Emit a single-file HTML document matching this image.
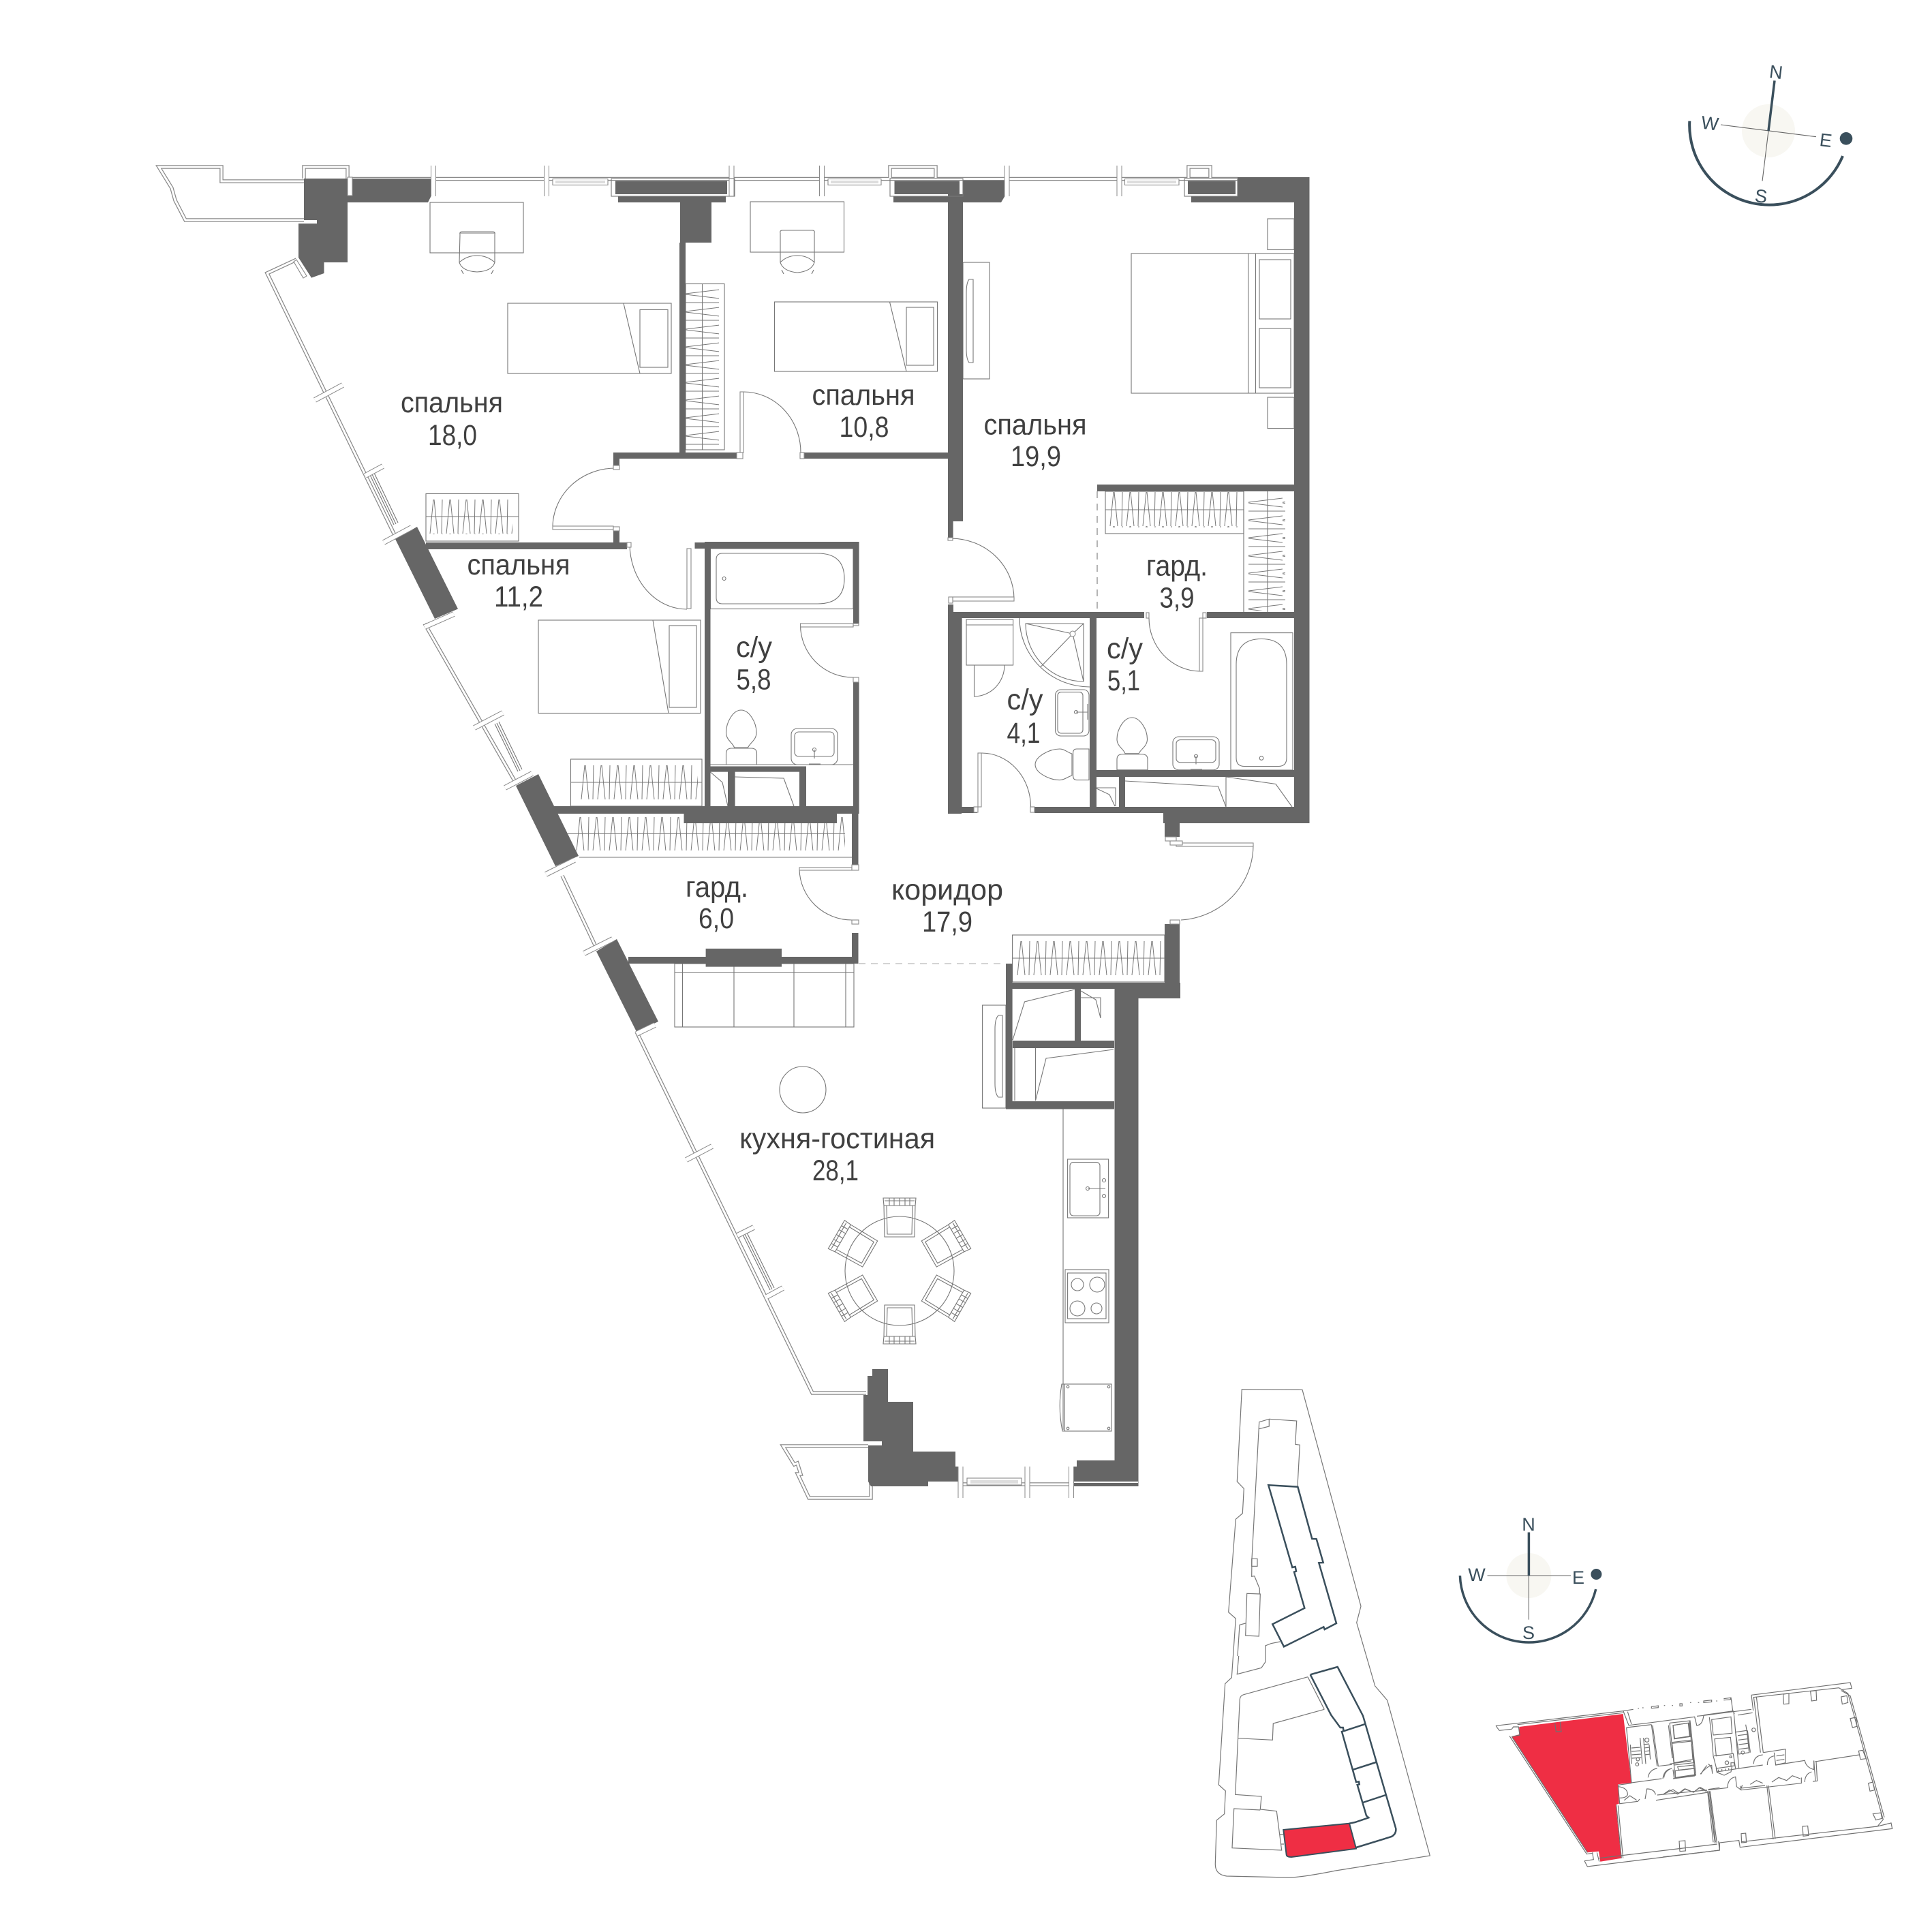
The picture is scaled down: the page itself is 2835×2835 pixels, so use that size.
<!DOCTYPE html>
<html><head><meta charset="utf-8"><style>
html,body{margin:0;padding:0;background:#fff}
svg{display:block}
.l{fill:none;stroke:#777;stroke-width:1.1}
.w{fill:#666;stroke:none}
.o{fill:none;stroke:#8a8a8a;stroke-width:5.5}
.i{fill:none;stroke:#fff;stroke-width:3}
.m{fill:none;stroke:#8a8a8a;stroke-width:8}
.n{fill:none;stroke:#fff;stroke-width:6}
.f{fill:#fff;stroke:#8a8a8a;stroke-width:1.1}
.t{font-family:"Liberation Sans",sans-serif;font-size:43px;fill:#404040;text-anchor:middle}
.c{font-family:"Liberation Sans",sans-serif;font-size:27px;fill:#3a4f5c;text-anchor:middle}
.s{fill:none;stroke:#777;stroke-width:1.2}
.d{fill:none;stroke:#3a4f5c;stroke-width:2.5}
.k{fill:none;stroke:#707070;stroke-width:3.5}
</style></head><body>
<svg xmlns="http://www.w3.org/2000/svg" width="2835" height="2835" viewBox="0 0 2835 2835">
<defs>
<pattern id="zh" patternUnits="userSpaceOnUse" width="24" height="50"><path d="M6 0L1 50M7 0L12 50M19 0L18 50" fill="none" stroke="#777" stroke-width="1"/></pattern>
<pattern id="zv" patternUnits="userSpaceOnUse" width="50" height="26"><path d="M0 7L50 1M0 8L50 14M0 20L50 20" fill="none" stroke="#777" stroke-width="1"/></pattern>
<path id="dbl" d="M446 266H325V245H233L252 276L257 294L272 323H446M435 381L392 401L579 785M623 915L757 1149M825 1285L876 1393M934 1514L1192 2044H1271M1274 2122H1149L1165.5 2149L1170 2147L1175 2163L1170.5 2163L1187 2198H1278V2175M1407 2178H1575M517 262.5H1816M446 262V245H510V262M1306 262V245H1373V262M1744 262V245H1776V262"/>
<path id="mul" d="M462 587L503 565M536 698L562 684M563 796L604 774M623 920L666 901M696 1068L738 1046M741 1156L781 1135M801 1283L843 1262M857 1399L899 1378M934 1517L961 1504M1007 1702L1045 1682M1082 1813L1106 1801M1125 1903L1149 1890M636 243V288M802 243V288M1073.5 243V288M1206 243V288M1477.5 243V288M1642.5 243V288M1409.5 2152V2198M1507.5 2152V2198M1572 2152V2198"/>
<g id="chair"><path class="l" d="M-23 -96L-22 -50H22L23 -96ZM-19 -96L-18 -54H18L19 -96ZM-24 -107H24L23 -96H-23ZM-22 -103H22M-15 -107V-96M-8 -107V-96M0 -107V-96M8 -107V-96M15 -107V-96"/></g>
<g id="sink"><rect class="l" x="0" y="0" width="68" height="53" rx="9"/><rect class="l" x="5" y="5" width="58" height="36" rx="6"/><path class="l" d="M34 44V31M26 52H43"/><circle class="l" cx="34" cy="31" r="2.5"/></g>
<g id="egg"><path class="l" d="M22 0C34 0 44.500 18 44.500 33C44.500 44 35 48 32 55H12C10 48 0 44 0 33C0 18 10 0 22 0Z"/><path class="l" d="M8 56H37Q45 56 45 64V80H0V64Q0 56 8 56Z"/></g>
</defs>

<!-- wardrobes -->
<g class="l">
<rect x="625" y="724.500" width="136" height="69.500"/><path d="M625 758H761"/>
<rect x="1006" y="416.500" width="57" height="243.500"/><path d="M1030.500 416.500V660"/>
<rect x="1622" y="721" width="203" height="62"/><path d="M1622 748H1825"/>
<path d="M1825 721V898M1860 721V898"/>
<rect x="837.500" y="1114" width="192.500" height="69"/><path d="M837.500 1148H1030"/>
<path d="M850 1258H1250M830 1223.500H1240"/>
<rect x="1485.600" y="1372" width="223.400" height="69"/><path d="M1485.600 1406H1709"/>
</g>
<rect transform="translate(630 733)" width="122" height="51" fill="url(#zh)"/>
<rect transform="translate(1628 722)" width="190" height="52" fill="url(#zh)"/>
<rect transform="translate(852 1123)" width="172" height="50" fill="url(#zh)"/>
<rect transform="translate(845 1199)" width="395" height="49" fill="url(#zh)"/>
<rect transform="translate(1492 1381)" width="214" height="50" fill="url(#zh)"/>
<rect transform="translate(1006 424)" width="49" height="231" fill="url(#zv)"/>
<rect transform="translate(1832 730)" width="54" height="166" fill="url(#zv)"/>

<!-- furniture -->
<g class="l">
<rect x="631" y="297" width="137" height="74"/>
<path d="M675 344Q674 340 678 340H723Q727 340 726 344V385Q722 398 700 399Q678 398 674 385ZM674 385Q685 375 700 375Q715 375 726 385M677 396L680 402M724 396L721 402M675 342H726"/>
<rect x="1101" y="296" width="137.500" height="74"/>
<path d="M1145 342Q1144 338 1148 338H1192Q1196 338 1195 342V385Q1191 398 1170 400Q1149 398 1145 385ZM1145 385Q1155 375 1170 375Q1185 375 1195 385M1147 396L1150 402M1194 396L1191 402"/>
<rect x="745" y="445" width="240" height="103"/><path d="M915 445L939 548"/><rect x="939" y="454.500" width="41" height="84.500"/>
<rect x="1136.500" y="443" width="239" height="102"/><path d="M1305.500 443L1330 545"/><rect x="1330" y="451" width="40" height="85"/>
<rect x="790" y="910" width="238" height="136.500"/><path d="M958 910L981 1046.500"/><rect x="982" y="918" width="40" height="120"/>
<rect x="1660" y="372" width="239" height="205"/><path d="M1831.600 372V577M1842.500 372V577"/>
<rect x="1848" y="381" width="46" height="87"/><rect x="1848" y="482" width="46" height="87"/>
<rect x="1860" y="321" width="39" height="45.500"/><rect x="1860" y="583" width="39" height="45.600"/>
<rect x="1413" y="385" width="39" height="171"/><path d="M1428 410H1422Q1418 415 1418 430V512Q1418 527 1422 532H1428Z"/>
<rect x="1441.600" y="1475" width="34.400" height="151"/><path d="M1471 1490H1465Q1460 1495 1460 1510V1590Q1460 1605 1465 1610H1471Z"/>
<rect x="990" y="1414" width="263" height="93"/><path d="M1001.500 1414V1507M1077 1414V1507M1165 1414V1507M1241 1414V1507M990 1427.500H1253"/>
<circle cx="1178" cy="1599" r="34"/>
<circle cx="1320" cy="1865" r="80"/>
<path d="M1560 1626V2098"/>
<rect x="1566.600" y="1701" width="60" height="86"/><rect x="1570" y="1705.500" width="44" height="78.500" rx="5"/>
<circle cx="1620" cy="1732" r="2.500"/><circle cx="1620" cy="1755" r="2.500"/><circle cx="1596" cy="1744" r="2.500"/><path d="M1596 1744H1622"/>
<rect x="1563" y="1863" width="64" height="78"/><rect x="1566.600" y="1868" width="56.400" height="67"/>
<circle cx="1581" cy="1885" r="9"/><circle cx="1610" cy="1885" r="11"/><circle cx="1581" cy="1920" r="11"/><circle cx="1609" cy="1920" r="8"/>
<rect x="1562" y="2031" width="69" height="69"/><path d="M1558 2031Q1552 2065 1559 2100H1562V2031Z"/>
<circle cx="1567" cy="2035" r="1.800"/><circle cx="1627" cy="2035" r="1.800"/><circle cx="1567" cy="2096" r="1.800"/><circle cx="1627" cy="2096" r="1.800"/>
<!-- baths -->
<rect x="1042.500" y="805" width="209.500" height="88.500"/>
<path d="M1060 812H1200Q1239 812 1239 849Q1239 886 1200 886H1060Q1051 886 1051 877V821Q1051 812 1060 812Z"/>
<circle cx="1062.600" cy="849" r="2.500"/>
<rect x="1806" y="928.600" width="91" height="201.400"/>
<path d="M1851 937.500Q1888 937.500 1888 975V1112Q1888 1124.500 1876 1124.500H1826Q1814 1124.500 1814 1112V975Q1814 937.500 1851 937.500Z"/>
<circle cx="1851" cy="1112.500" r="2.800"/>
<path d="M1042.500 1122H1252"/>
<!-- shower, WM -->
<path d="M1496 907A103 101 0 0 0 1599 1008M1505 915A85 85 0 0 0 1590 1000V915ZM1574 930L1505 915M1574 930L1590 915M1574 930L1590 1000M1574 930L1527 978.600"/>
<circle class="f" cx="1574" cy="930" r="4"/>
<rect x="1418" y="909" width="68.600" height="67"/><path d="M1418 917H1486.600M1429.500 976V1022A45 46 0 0 0 1474 976"/>
<rect x="1548.600" y="1012" width="49.400" height="68" rx="8"/><rect x="1552" y="1015.600" width="37" height="60.400" rx="5"/><path d="M1579 1045H1596M1596 1033V1056"/><circle cx="1579" cy="1045" r="2.500"/>
<path d="M1519 1122C1519 1110 1540 1099 1555 1099C1562 1099 1566 1104 1573 1106V1138C1566 1140 1562 1144.600 1555 1144.600C1540 1144.600 1519 1134 1519 1122Z"/>
<path d="M1598 1099H1580Q1574.600 1099 1574.600 1105V1138Q1574.600 1144.600 1580 1144.600H1598Z"/>
<!-- shaft linework -->
<path d="M1609 1156H1637V1183M1609 1157L1628 1166L1636 1183"/>
<path d="M1651 1146L1787.500 1154L1799 1184M1799 1140V1184M1799 1140L1872 1150.500L1896 1184"/>
<path d="M1042.500 1133L1060 1148L1068 1183M1078.600 1140L1150 1142L1165 1183"/>
<path d="M1486 1526L1503.500 1470L1577 1452M1586 1464H1615V1494M1586 1454L1608 1467L1615 1494M1519.500 1615L1535 1553L1634 1540M1519.500 1538V1615M1489 1538V1615"/>
<path d="M1610 721V898" stroke-dasharray="10 8"/>
<path d="M1260 1414H1476" stroke-dasharray="10 8" stroke="#aaa"/>
<!-- doors -->
<path d="M811 772A92 87 0 0 1 903 687M924 798A84 96 0 0 0 1008 894M1091 575A84 89 0 0 1 1175 664M1395 790A93 89 0 0 1 1488 879M1174.500 917A77 77 0 0 0 1252 994M1173 1276A77 76 0 0 0 1250 1350M1686 907A76 78 0 0 0 1760 985M1440 1105A72 79 0 0 1 1512.500 1184M1839 1240A113 110 0 0 1 1733 1350"/>
</g>
<use href="#egg" transform="translate(1065.500 1042)"/>
<use href="#egg" transform="translate(1639 1053) scale(1 .96)"/>
<use href="#sink" transform="translate(1161 1069)"/>
<use href="#sink" transform="translate(1721 1081) scale(1 .92)"/>
<g transform="translate(1320 1865)">
<use href="#chair"/><use href="#chair" transform="rotate(60)"/><use href="#chair" transform="rotate(120)"/><use href="#chair" transform="rotate(180)"/><use href="#chair" transform="rotate(240)"/><use href="#chair" transform="rotate(300)"/>
</g>

<!-- facade lines -->
<use href="#dbl" class="o"/><use href="#dbl" class="i"/>
<!-- sliding sections on the facade -->
<g class="l" stroke-width="1.3">
<path d="M543 697L578 770M546 696L581 769M549 694L584 767"/>
<path d="M726 1062L760 1132M729 1061L763 1131M732 1059L766 1129"/>
<path d="M1090 1812L1130 1893M1093 1811L1133 1892M1096 1809L1136 1890"/>
</g>

<!-- walls -->
<path class="w" d="M446 262H633V287L628 297H510V385H475.500V401L457 407.600L438 378V328H465V323H446Z"/>
<path class="w" d="M903 265.600H1067V285H903ZM907 288H1065V297H907ZM998 297H1044V356H998ZM997 356H1006V664H997ZM900 664H1081V673H909V683H900ZM625 796H920V806H625ZM900 779H909V796H900Z"/>
<path class="w" d="M1312.500 265.600H1408V285H1312.500ZM1311 288H1392V297H1311ZM1391 285H1413V765H1398.600V789H1391ZM1413 265H1475V287L1469 297H1413ZM1180.500 664H1391V673H1180.500Z"/>
<path class="w" d="M1743 265.600H1813V285H1743ZM1748 288H1899V297H1748ZM1816 260H1921.500V1208H1707V1193H1899V297H1816ZM1610 711H1899V721H1610Z"/>
<path class="w" d="M1391 887H1399V898H1679V907H1411.600V1184H1434V1193H1411V1194H1391ZM1771 898H1899V907H1771ZM1599 907H1609V1193H1599ZM1518 1184H1899V1193H1518ZM1609 1130H1899V1140H1609ZM1642 1140H1651V1184H1642ZM1707 1193H1731V1228H1709V1208H1707Z"/>
<path class="w" d="M1709 1356H1731V1442H1709ZM1476 1442H1732V1465H1670.500V2181H1575V2152H1580V2143H1635.500V1451H1476ZM1476 1414H1485.600V1616H1635V1627.500H1476ZM1486 1527H1635V1538H1486ZM1577 1451H1586V1527H1577Z"/>
<path class="w" d="M1280 2009H1303V2057H1340V2130H1402V2152H1407V2174H1362V2181H1278L1274 2174V2121H1294V2115H1267V2047H1273V2019H1280Z"/>
<path class="w" d="M1034 795H1260.600V917H1252V805H1042.500V1183H1034ZM1019.500 796H1034V805H1019.500ZM1252 1001H1260.600V1194H1259.500V1269H1250V1194H810V1183H1003.500V1183H1252ZM1042.500 1124.500H1183V1183H1173V1132.600H1078.600V1183H1068V1132.600H1042.500ZM1003.500 1183H1228V1208H1003.500ZM1250 1369H1259.500V1414H922V1404H1035.600V1392H1147V1404H1250ZM1035.600 1414H1147V1418.600H1035.600Z"/>
<path class="w" d="M612 773L580 791L638 908L672 893.500ZM790 1136L757 1153L815 1271L849 1256ZM905 1378L875 1396L934 1514L966 1499Z"/>
<path fill="#fff" d="M1575 2174H1670V2176H1575Z"/>

<!-- mullions, frames and sashes -->
<use href="#mul" class="m"/><use href="#mul" class="n"/>
<rect class="f" x="510" y="260" width="7" height="27"/>
<path class="f" d="M435 381L450 405L445 408L431 384Z"/>
<rect class="l" x="897" y="262" width="181" height="26"/>
<rect class="l" x="1306" y="262" width="107" height="26"/>
<rect class="l" x="1738" y="262" width="78" height="26"/>
<g class="f">
<rect x="811" y="262.500" width="81" height="9"/><rect x="1215" y="262.500" width="78" height="9"/><rect x="1650.500" y="262.500" width="79.500" height="9"/><rect x="1419" y="2169" width="80" height="10"/>
</g>
<g fill="#ddd">
<rect x="815" y="265" width="73" height="4"/><rect x="1219" y="265" width="70" height="4"/><rect x="1654" y="265" width="72" height="4"/><rect x="1424" y="2172" width="70" height="5"/>
</g>
<g class="f">
<rect x="811" y="772" width="89" height="5"/><rect x="1008" y="805" width="6" height="88"/><rect x="1086" y="575" width="5" height="89"/>
<rect x="1398" y="876" width="90" height="6"/><rect x="1174.500" y="915" width="77.500" height="5"/><rect x="1173" y="1273" width="77" height="4"/>
<rect x="1760" y="907" width="5" height="78"/><rect x="1435" y="1105" width="5" height="79"/><rect x="1726" y="1237" width="113" height="5"/>
<!-- door hinge frames -->
<rect x="900" y="683" width="9" height="6"/><rect x="900" y="773" width="9" height="6"/><rect x="920" y="796" width="6" height="7"/>
<rect x="1081" y="664" width="9" height="9"/><rect x="1174" y="664" width="6" height="9"/>
<rect x="1391" y="789" width="7" height="4"/><rect x="1392" y="876" width="6" height="9"/>
<rect x="1682" y="899" width="4" height="8"/><rect x="1765" y="899" width="5" height="8"/>
<rect x="1429" y="1184" width="6" height="8"/><rect x="1512" y="1184" width="6" height="8"/>
<rect x="1252" y="915" width="8" height="3"/><rect x="1252" y="994" width="8" height="7"/>
<rect x="1250" y="1269" width="10" height="8"/><rect x="1250" y="1350" width="10" height="6"/>
<rect x="1710" y="1228" width="16" height="6"/><rect x="1717" y="1234" width="18" height="6"/><rect x="1717" y="1350" width="14" height="6"/>
</g>

<!-- labels -->
<g class="t">
<text x="663" y="605" textLength="150" lengthAdjust="spacingAndGlyphs">спальня</text>
<text x="664" y="653" textLength="72" lengthAdjust="spacingAndGlyphs">18,0</text>
<text x="761" y="843" textLength="151" lengthAdjust="spacingAndGlyphs">спальня</text>
<text x="761" y="890" textLength="72" lengthAdjust="spacingAndGlyphs">11,2</text>
<text x="1267" y="594" textLength="151" lengthAdjust="spacingAndGlyphs">спальня</text>
<text x="1268" y="641" textLength="73" lengthAdjust="spacingAndGlyphs">10,8</text>
<text x="1519" y="637.500" textLength="151" lengthAdjust="spacingAndGlyphs">спальня</text>
<text x="1520" y="684" textLength="74" lengthAdjust="spacingAndGlyphs">19,9</text>
<text x="1727" y="844.600" textLength="90" lengthAdjust="spacingAndGlyphs">гард.</text>
<text x="1727" y="891.500" textLength="51" lengthAdjust="spacingAndGlyphs">3,9</text>
<text x="1650.500" y="966" textLength="53" lengthAdjust="spacingAndGlyphs">с/у</text>
<text x="1649" y="1013" textLength="48" lengthAdjust="spacingAndGlyphs">5,1</text>
<text x="1504" y="1041" textLength="53" lengthAdjust="spacingAndGlyphs">с/у</text>
<text x="1502" y="1090" textLength="49" lengthAdjust="spacingAndGlyphs">4,1</text>
<text x="1106.500" y="964" textLength="53" lengthAdjust="spacingAndGlyphs">с/у</text>
<text x="1106" y="1011.600" textLength="51" lengthAdjust="spacingAndGlyphs">5,8</text>
<text x="1052" y="1316" textLength="92" lengthAdjust="spacingAndGlyphs">гард.</text>
<text x="1051" y="1362" textLength="52" lengthAdjust="spacingAndGlyphs">6,0</text>
<text x="1390" y="1320" textLength="164" lengthAdjust="spacingAndGlyphs">коридор</text>
<text x="1390" y="1367" textLength="74" lengthAdjust="spacingAndGlyphs">17,9</text>
<text x="1228.600" y="1685" textLength="287" lengthAdjust="spacingAndGlyphs">кухня-гостиная</text>
<text x="1226" y="1732" textLength="68" lengthAdjust="spacingAndGlyphs">28,1</text>
</g>

<!-- compass top -->
<circle cx="2595" cy="192" r="39" fill="#f8f7f2"/>
<path d="M2595 192L2586 265.700M2525 183L2665 200.700" stroke="#666" stroke-width="1.100" fill="none"/>
<path d="M2595 192L2604 118.300" stroke="#3a4f5c" stroke-width="3.500" fill="none"/>
<path d="M2479.300 177.700A117 117 0 0 0 2704 229" stroke="#3a4f5c" stroke-width="4" fill="none"/>
<circle cx="2709" cy="203.300" r="9.300" fill="#3a4f5c"/>
<text class="c" transform="translate(2605 115) rotate(7)">N</text>
<text class="c" transform="translate(2508 190) rotate(7)">W</text>
<text class="c" transform="translate(2678 215) rotate(7)">E</text>
<text class="c" transform="translate(2583 297) rotate(7)">S</text>

<!-- compass bottom -->
<circle cx="2243.400" cy="2312" r="33" fill="#f8f7f2"/>
<path d="M2243.400 2312V2376.600M2182.500 2312H2305" stroke="#666" stroke-width="1.100" fill="none"/>
<path d="M2243.400 2312V2248.500" stroke="#3a4f5c" stroke-width="3.500" fill="none"/>
<path d="M2142.400 2312A101 101 0 0 0 2341.700 2332" stroke="#3a4f5c" stroke-width="3.500" fill="none"/>
<circle cx="2342.400" cy="2310" r="8" fill="#3a4f5c"/>
<text class="c" x="2243" y="2246">N</text>
<text class="c" x="2167" y="2320">W</text>
<text class="c" x="2316" y="2324">E</text>
<text class="c" x="2243" y="2405">S</text>

<!-- site plan -->
<g class="s">
<path d="M1822.300 2038.700L1911 2039.300L1997 2357L1990.700 2381L2017.700 2474L2035.700 2495L2098.300 2723L1960 2745Q1910 2755 1890 2755L1800 2753Q1783 2751 1783.300 2735L1785.300 2671L1796.700 2661.700L1798.300 2628L1788.300 2619L1797.700 2470.700L1807.300 2461.700L1813.300 2375L1802.700 2365.700L1813.300 2229.300L1823.300 2220.700L1825.300 2184.300L1815.300 2174Z"/>
<path d="M1816 2430L1819 2384.300L1827.700 2382M1829.700 2338.300L1849.300 2339L1847.300 2401L1827.700 2400ZM1848.300 2338.300V2331L1840.700 2312.700L1836.700 2313.300L1837 2287.300L1847.700 2086.700L1862.300 2082.300L1902.700 2085L1900.700 2119.300L1907.300 2120.300L1904.300 2175V2181.700"/>
<path d="M1836.700 2287.300H1845V2298.300H1836.700ZM1847.700 2096.700L1862.300 2093V2082.300"/>
<path d="M1878.300 2409L1865 2411.700L1856.700 2415V2439L1851 2447.300L1815.300 2456.700L1817.700 2430"/>
<path d="M1919 2460.700L1825 2486.700Q1820 2488 1819.300 2493.300L1812.700 2633.300L1851 2636L1849.300 2655L1873.300 2657.700L1880.700 2715L1808 2711.700L1810.700 2654L1849.300 2656M1816.700 2550.700L1867.300 2553.300L1868.300 2529L1943.300 2508.300M1919 2460.700L1943.300 2508.300M1878 2692H1883M1880 2706H1884"/>
</g>
<g class="d">
<path d="M1861.300 2179.300L1904.300 2181.700L1925.300 2258L1931.700 2258.300L1941.700 2293L1935.300 2293.300L1961 2382L1943.700 2391L1942.300 2387.300L1884 2416.300L1867.300 2383.300L1914.300 2359.700L1899 2306.700L1902 2305.700L1900.700 2299L1896.300 2300Z"/>
<path d="M1922.700 2457.300L1962.700 2446L2000 2517.700L2048.300 2683.300Q2049 2691 2042 2695L1990 2711M1922.700 2457.300L1953.300 2516.700L1966.700 2535L1970.700 2535L1971.700 2540L1969 2541L1990 2615L1994 2614.300L1994.700 2618.300L1991.700 2619L2005 2664.300L2008.300 2667.300L1988.300 2674L1980 2675.700"/>
<path d="M1972.300 2540L2002.700 2530M1985.700 2596.700L2019 2586M2000 2645L2033.300 2634"/>
</g>
<path d="M1883.300 2685L1980 2675.700L1990 2712.700L1895 2725Q1888 2725 1887.700 2721.700Z" fill="#ef2e44" stroke="#3a4f5c" stroke-width="2"/>

<!-- key plan -->
<path d="M2229.300 2534L2381.700 2515L2394 2616L2374.300 2618.300L2375.700 2646.700L2371 2648.300L2379 2726.700L2348.300 2731.700L2346 2716.700L2329.300 2718.300L2218.300 2548.300L2229.300 2545Z" fill="#ef2e44"/>
<g transform="translate(2190 2460) scale(.33333)" class="k">
<path d="M15 217L575 152L620 145M30 238L85 232M15 217L30 238M85 232L92 222H115L120 258L85 265M110 212L575 160"/>
<path d="M75 262L415 782L440 778M85 265L418 775"/>
<path d="M405 812L418 837L1000 765L995 725M405 812L445 806L440 775M470 815L460 775M470 800L990 738"/>
<path d="M275 205L280 243H303L298 200"/>
<path d="M575 150L600 215L700 203L890 178L900 218M595 155L612 210"/>
<path d="M590 225L612 468L745 450M590 225L700 212M700 212L725 395"/>
<path d="M705 215L730 395L790 388M780 205L805 445L895 432L870 195L780 205"/>
<path d="M795 215L862 205L868 263L802 273ZM790 295L875 285L885 380L800 390ZM815 398L885 390L888 405L820 412ZM805 415L890 405L895 435L805 448Z"/>
<path d="M685 445A45 45 0 0 1 725 405M755 445A45 45 0 0 1 790 405M900 215Q925 215 930 170M918 430Q935 400 945 392"/>
<path d="M607 300L612 385M650 270L660 385M665 270L675 385M690 300L695 365M612 315L650 312M612 330L652 327M613 345L654 342M614 360L655 357M665 300L690 297M667 315L691 312M668 330L692 327M670 345L694 342"/>
<circle cx="680" cy="280" r="9"/><circle cx="640" cy="365" r="7"/><circle cx="637" cy="387" r="7"/>
<path d="M553 478L612 470M553 478L560 560L640 550L648 540M545 565L568 800M553 568L575 800M555 485Q595 490 595 520Q590 535 560 535"/>
<path d="M672 540L680 495Q712 495 718 520M720 545L950 510M725 522L945 500M760 515L795 498L820 515L850 495L885 510L910 490L940 505M580 545L605 525L635 545"/>
<path d="M950 505L980 735M958 505L988 733M950 497L1000 490"/>
<path d="M620 145M640 140h5M660 138h5M700 133l30 -4v8l-30 3zM755 128h5M790 128h5M825 120h10v10h-10zM870 115h5M905 115h5M930 108l35 -4v8l-35 3zM985 108h5M1018 98l30 -4v8l-30 2M1050 92L1058 152"/>
<path d="M930 170L1060 152L1065 165"/>
<path d="M968 420Q965 395 950 385"/>
</g>
<g transform="translate(2440 2460) scale(.33333)" class="k">
<path d="M390 82L825 27L832 52L790 58M398 92L775 50M775 50L815 75L970 630L945 660L1005 645L1010 670L340 752L335 722L250 732L250 765L0 795M785 62L825 85L975 620M945 660L345 728"/>
<path d="M390 82L398 150M412 90L442 335M400 90L430 335M310 155L390 145M312 155L335 405M330 170L395 160"/>
<path d="M442 335L540 320V380L497 390L490 335M335 405L440 390M500 350L535 345M500 370L535 365"/>
<path d="M205 505L232 730M197 505L222 730M465 480L495 715M458 480L486 717M670 375L865 345M675 375L680 460L660 462M665 372L672 460M880 325L895 362L870 365L862 328Z"/>
<path d="M497 390L625 370Q630 400 665 410L665 370M200 500L285 490Q285 450 320 442L325 485L345 500L610 470L610 445M625 465Q625 430 655 420M400 385Q400 350 440 345M460 390Q460 355 490 350"/>
<path d="M340 482L345 500M350 478L345 492L450 480M385 475L412 458L440 470M480 465L510 445L545 458L570 437L605 450M0 520L30 500L65 518L95 495L135 510L165 488L195 505"/>
<path d="M530 78L555 75L555 120L532 122ZM650 65L675 62L677 105L655 108ZM785 90L810 85L815 115L790 122ZM825 185L850 180L855 220L835 225ZM905 470L925 465L932 500L912 505ZM925 605L960 600L965 625L938 632ZM615 660L638 658L642 700L618 703ZM345 692L365 690L368 730L347 732ZM72 725L98 723L100 768L75 770Z"/>
<path d="M180 172L310 155M180 172L150 175M205 180L215 265L222 350L240 420L335 405M215 190L300 178L305 250L222 258ZM228 275L298 268L305 340L235 350ZM225 350L310 340L320 405"/>
<path d="M320 245L370 238L380 335L335 342ZM330 260L370 255M332 280L372 275M334 300L374 295M336 320L376 315M365 212L385 330M373 238L385 335"/>
<circle cx="400" cy="235" r="8"/><circle cx="352" cy="335" r="7"/><circle cx="282" cy="380" r="8"/>
<path d="M235 405L305 395L300 420L270 435L238 422ZM245 410V420M260 408V418M275 406V416M290 404V414M295 350h8v8h-8zM300 380h14v14h-14z"/>
<path d="M0 450Q5 415 30 408M45 450L140 438L135 355L125 285L118 195M50 450L45 410M55 415L135 405M30 385L125 372M40 290L125 280L132 365L50 380ZM45 215L115 205L120 265L50 275ZM25 215L42 360M165 430Q190 400 215 390M215 390L218 428"/>
</g>
</svg>
</body></html>
